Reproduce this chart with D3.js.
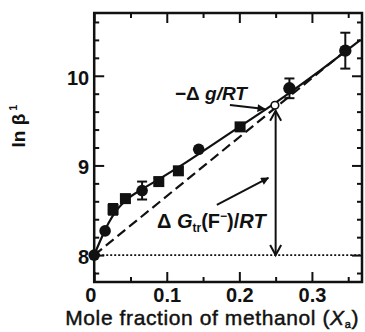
<!DOCTYPE html>
<html>
<head>
<meta charset="utf-8">
<script src="https://cdn.jsdelivr.net/npm/d3@7"></script>
<style>
  html, body { margin: 0; padding: 0; background: #fff; }
  svg { display: block; }
  text { font-family: "Liberation Sans", Arial, Helvetica, sans-serif; fill: #111; }
</style>
</head>
<body>
<svg id="chart" width="365" height="332"></svg>
<script>
// Stability constants of FeF2+ in water–methanol mixtures
const circleX = [0, 0.015, 0.066, 0.144, 0.269, 0.346];
const circleY = [8.00, 8.27, 8.72, 9.18, 9.86, 10.28];
const circleErr = [0, 0, 0.10, 0, 0.11, 0.20];

const squareX = [0.026, 0.043, 0.089, 0.116, 0.201];
const squareY = [8.51, 8.63, 8.82, 8.94, 9.43];
const squareErr = [0.06, 0.04, 0.04, 0.04, 0.03];

// smooth fit through the measured points
const fitX = [0, 0.01, 0.02, 0.03, 0.045, 0.065, 0.09, 0.12, 0.15, 0.2, 0.25, 0.3, 0.367];
const fitY = [8.00, 8.19, 8.36, 8.49, 8.62, 8.73, 8.85, 9.00, 9.16, 9.43, 9.70, 9.99, 10.40];

// straight (dashed) reference line
const dashX = [0, 0.345];
const dashY = [8.00, 10.27];

// open point and the double arrow at Xa = 0.25
const openX = 0.249, openY = 9.67;
const arrowX = 0.25, arrowY0 = 8.00, arrowY1 = 9.61;
const baseY = 8.0;

const xMajor = [0, 0.1, 0.2, 0.3];
const xMinor = [0.05, 0.15, 0.25, 0.35];
const xTickLabels = ["0", "0.1", "0.2", "0.3"];
const yMajor = [8, 9, 10];
const yMinor = [7.8, 8.2, 8.4, 8.6, 8.8, 9.2, 9.4, 9.6, 9.8, 10.2, 10.4, 10.6];
const yTickLabels = ["8", "9", "10"];

const svg = d3.select("#chart");
const L = 94.2, R = 362, T = 13, B = 282;

const x = d3.scaleLinear().domain([0, 0.369]).range([L, R]);
const y = d3.scaleLinear().domain([7.7, 10.7]).range([B, T]);

// arrowhead marker
const defs = svg.append("defs");
defs.append("marker")
  .attr("id", "head").attr("viewBox", "0 0 10 10")
  .attr("refX", 9).attr("refY", 5)
  .attr("markerWidth", 11).attr("markerHeight", 8)
  .attr("markerUnits", "userSpaceOnUse")
  .attr("orient", "auto")
  .append("path").attr("d", "M0,0 L10,5 L0,10 Z").attr("fill", "#111");

// axes with inward ticks on all four sides
function styleAxis(g) {
  g.select(".domain").remove();
  g.selectAll(".tick line").attr("stroke", "#111").attr("stroke-width", 2);
}
const fmtX = (d) => xTickLabels[xMajor.indexOf(d)];
const fmtY = (d) => yTickLabels[yMajor.indexOf(d)];

svg.append("g").attr("transform", `translate(0,${B})`)
  .call(d3.axisBottom(x).tickValues(xMajor).tickSize(-10).tickPadding(6).tickFormat(fmtX))
  .call(styleAxis)
  .call(g => g.selectAll("text")
    .attr("font-size", 20).attr("font-weight", "bold")
    .attr("font-family", "Liberation Sans, Arial, sans-serif")
    .attr("fill", "#111")
    .attr("dx", (d) => d === 0 ? -4 : 0));
svg.append("g").attr("transform", `translate(0,${B})`)
  .call(d3.axisBottom(x).tickValues(xMinor).tickSize(-5).tickFormat(""))
  .call(styleAxis);
svg.append("g").attr("transform", `translate(0,${T})`)
  .call(d3.axisTop(x).tickValues(xMajor).tickSize(-10).tickFormat(""))
  .call(styleAxis);
svg.append("g").attr("transform", `translate(0,${T})`)
  .call(d3.axisTop(x).tickValues(xMinor).tickSize(-5).tickFormat(""))
  .call(styleAxis);

svg.append("g").attr("transform", `translate(${L},0)`)
  .call(d3.axisLeft(y).tickValues(yMajor).tickSize(-10).tickPadding(5).tickFormat(fmtY))
  .call(styleAxis)
  .call(g => g.selectAll("text")
    .attr("font-size", 20).attr("font-weight", "bold")
    .attr("font-family", "Liberation Sans, Arial, sans-serif")
    .attr("fill", "#111")
    .attr("y", 2));
svg.append("g").attr("transform", `translate(${L},0)`)
  .call(d3.axisLeft(y).tickValues(yMinor).tickSize(-5).tickFormat(""))
  .call(styleAxis);
svg.append("g").attr("transform", `translate(${R},0)`)
  .call(d3.axisRight(y).tickValues(yMajor).tickSize(-10).tickFormat(""))
  .call(styleAxis);
svg.append("g").attr("transform", `translate(${R},0)`)
  .call(d3.axisRight(y).tickValues(yMinor).tickSize(-5).tickFormat(""))
  .call(styleAxis);

// frame
svg.append("rect")
  .attr("x", L).attr("y", T).attr("width", R - L).attr("height", B - T)
  .attr("fill", "none").attr("stroke", "#111").attr("stroke-width", 2.5);

// dotted baseline at ln β1 = 8
svg.append("line")
  .attr("x1", x(0)).attr("x2", R).attr("y1", y(baseY)).attr("y2", y(baseY))
  .attr("stroke", "#111").attr("stroke-width", 1.6).attr("stroke-dasharray", "2,2");

// dashed straight line
const line = d3.line().x(d => x(d[0])).y(d => y(d[1]));
svg.append("path")
  .datum(d3.zip(dashX, dashY))
  .attr("d", line)
  .attr("fill", "none").attr("stroke", "#111").attr("stroke-width", 2.2)
  .attr("stroke-dasharray", "10,5");

// fitted solid curve
svg.append("path")
  .datum(d3.zip(fitX, fitY))
  .attr("d", line.curve(d3.curveMonotoneX))
  .attr("fill", "none").attr("stroke", "#111").attr("stroke-width", 2.2);

// error bars
function errorBars(xs, ys, es) {
  const data = d3.zip(xs, ys, es).filter(d => d[2] > 0);
  const g = svg.append("g").attr("stroke", "#111").attr("stroke-width", 2);
  g.selectAll("line.v").data(data).join("line")
    .attr("x1", d => x(d[0])).attr("x2", d => x(d[0]))
    .attr("y1", d => y(d[1] - d[2])).attr("y2", d => y(d[1] + d[2]));
  g.selectAll("line.t").data(data).join("line")
    .attr("x1", d => x(d[0]) - 5).attr("x2", d => x(d[0]) + 5)
    .attr("y1", d => y(d[1] + d[2])).attr("y2", d => y(d[1] + d[2]));
  g.selectAll("line.b").data(data).join("line")
    .attr("x1", d => x(d[0]) - 5).attr("x2", d => x(d[0]) + 5)
    .attr("y1", d => y(d[1] - d[2])).attr("y2", d => y(d[1] - d[2]));
}
errorBars(circleX, circleY, circleErr);
errorBars(squareX, squareY, squareErr);

// markers
svg.append("g").selectAll("circle").data(d3.zip(circleX, circleY)).join("circle")
  .attr("cx", d => x(d[0])).attr("cy", d => y(d[1]))
  .attr("r", (d, i) => i >= 4 ? 6.2 : 5.8)
  .attr("fill", "#111");
svg.append("g").selectAll("rect").data(d3.zip(squareX, squareY)).join("rect")
  .attr("x", d => x(d[0]) - 5.5).attr("y", d => y(d[1]) - 5.5)
  .attr("width", 11).attr("height", 11)
  .attr("fill", "#111");

// vertical double arrow (open heads)
const ax = x(arrowX), ay0 = y(arrowY0), ay1 = y(arrowY1);
const arr = svg.append("g").attr("stroke", "#111").attr("stroke-width", 2).attr("fill", "none");
arr.append("line").attr("x1", ax).attr("x2", ax).attr("y1", ay0).attr("y2", ay1);
arr.append("path").attr("d", `M${ax - 5.5},${ay0 - 10} L${ax},${ay0} L${ax + 5.5},${ay0 - 10}`);
arr.append("path").attr("d", `M${ax - 5.5},${ay1 + 10} L${ax},${ay1} L${ax + 5.5},${ay1 + 10}`);

// open point
svg.append("circle")
  .attr("cx", x(openX)).attr("cy", y(openY)).attr("r", 3.8)
  .attr("fill", "#fff").attr("stroke", "#111").attr("stroke-width", 1.6);

// annotation arrows
svg.append("line")
  .attr("x1", x(0.187)).attr("y1", y(9.674))
  .attr("x2", x(0.235)).attr("y2", y(9.63))
  .attr("stroke", "#111").attr("stroke-width", 2).attr("marker-end", "url(#head)");
svg.append("line")
  .attr("x1", x(0.169)).attr("y1", y(8.56))
  .attr("x2", x(0.240)).attr("y2", y(8.86))
  .attr("stroke", "#111").attr("stroke-width", 2).attr("marker-end", "url(#head)");

// annotation labels
const t1 = svg.append("text").attr("x", 175).attr("y", 100)
  .attr("font-size", 19).attr("font-weight", "bold");
t1.append("tspan").text("−Δ ");
t1.append("tspan").attr("font-style", "italic").text("g/RT");

const t2 = svg.append("text").attr("x", 157).attr("y", 228)
  .attr("font-size", 20).attr("font-weight", "bold");
t2.append("tspan").text("Δ ");
t2.append("tspan").attr("font-style", "italic").text("G");
t2.append("tspan").attr("font-size", 12).attr("dy", 4).text("tr");
t2.append("tspan").attr("dy", -4).text("(F");
t2.append("tspan").attr("font-size", 12).attr("dy", -8).text("−");
t2.append("tspan").attr("dy", 8).text(")/");
t2.append("tspan").attr("font-style", "italic").text("RT");

// axis titles
const yl = svg.append("text")
  .attr("transform", "translate(25,126) rotate(-90)")
  .attr("text-anchor", "middle").attr("font-size", 19).attr("font-weight", "bold");
yl.append("tspan").text("ln β");
yl.append("tspan").attr("font-size", 11).attr("dy", -8).attr("dx", 3).text("1");

const xl = svg.append("text")
  .attr("x", 359).attr("y", 325).attr("text-anchor", "end")
  .attr("font-size", 21).attr("letter-spacing", 0.6)
  .attr("stroke", "#111").attr("stroke-width", 0.45);
xl.append("tspan").text("Mole fraction of methanol (");
xl.append("tspan").attr("font-style", "italic").text("X");
xl.append("tspan").attr("font-size", 11).attr("dy", 2.5).text("a");
xl.append("tspan").attr("dy", -2.5).text(")");
</script>
</body>
</html>
